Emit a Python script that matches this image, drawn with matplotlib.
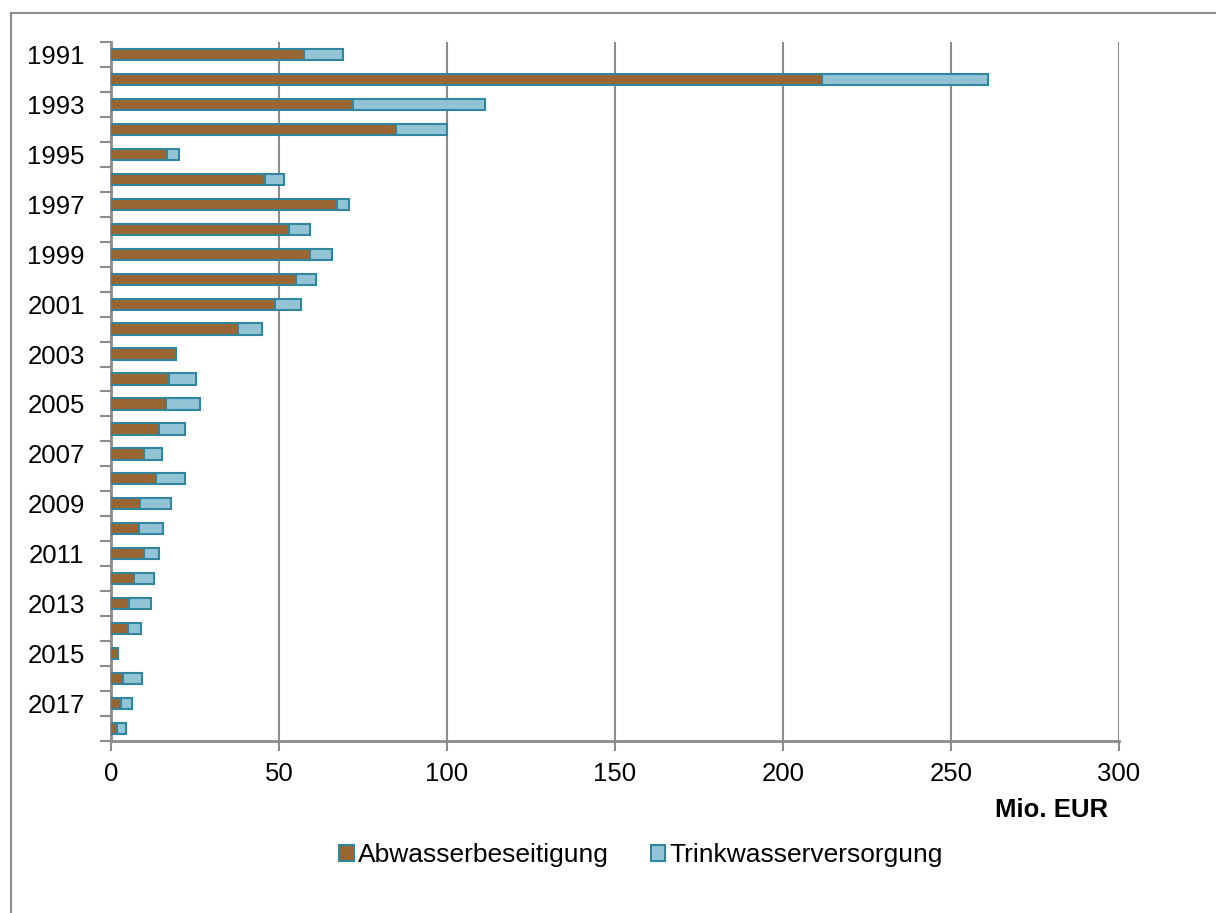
import matplotlib.pyplot as plt
import numpy as np
from matplotlib.patches import Rectangle

plt.rcParams['font.family'] = ['Liberation Sans', 'DejaVu Sans']

# Investitionen je Jahr, Mio. EUR
years = list(range(1991, 2019))
abwasser = [57.4, 211.5, 72.1, 84.9, 16.6, 45.8, 67.2, 52.9, 59.3, 55.0,
            48.7, 37.7, 19.4, 17.3, 16.5, 14.3, 9.9, 13.5, 8.7, 8.2,
            9.9, 6.8, 5.3, 5.2, 2.1, 3.5, 2.9, 1.7]
trinkwasser = [11.5, 49.5, 39.2, 15.0, 3.5, 5.8, 3.7, 6.3, 6.5, 6.0,
               7.9, 7.2, 0.0, 7.9, 10.1, 7.8, 5.4, 8.4, 9.1, 7.3,
               4.4, 6.1, 6.5, 3.8, 0.0, 5.7, 3.4, 2.7]

brown = '#996633'
light_blue = '#93c4d6'
edge = '#31859c'
grey = '#8c8c8c'

fig = plt.figure(figsize=(12.16, 9.13), dpi=100)
ax = fig.add_axes([0.0913, 0.1884, 0.8289, 0.7656])

y = np.arange(len(years))
ax.barh(y, abwasser, height=0.45, color=brown, edgecolor=edge, linewidth=1.5,
        label='Abwasserbeseitigung', zorder=3)
ax.barh(y, trinkwasser, left=abwasser, height=0.45, color=light_blue,
        edgecolor=edge, linewidth=1.5, label='Trinkwasserversorgung', zorder=3)

ax.set_xlim(0, 300)
ax.set_ylim(len(years) - 0.5, -0.5)
ax.set_xticks(np.arange(0, 301, 50))
ax.tick_params(axis='x', length=7, width=1.5, color=grey, labelsize=18.5, pad=8)
ax.xaxis.grid(True, color=grey, linewidth=1.5, zorder=0)

# year labels on every other bar, tick marks between the bars
ax.set_yticks(y[::2])
ax.set_yticklabels([str(v) for v in years[::2]])
ax.tick_params(axis='y', which='major', length=0, labelsize=18.5, pad=19)
ax.set_yticks(np.arange(-0.5, len(years)), minor=True)
ax.tick_params(axis='y', which='minor', length=8, width=1.5, color=grey)

for side in ('top', 'right'):
    ax.spines[side].set_visible(False)
for side in ('left', 'bottom'):
    ax.spines[side].set_color(grey)
    ax.spines[side].set_linewidth(2)

fig.text(1108 / 1216, 1 - 810 / 913, 'Mio. EUR', ha='right', va='center',
         fontsize=18.5, fontweight='bold')

fig.legend(loc='center', bbox_to_anchor=(641 / 1216, 1 - 855 / 913),
           ncol=2, frameon=False, fontsize=19, handlelength=0.55,
           handleheight=0.55, handletextpad=0.15, columnspacing=1.6)

# outer chart frame
fig.patches.append(Rectangle((11 / 1216, -0.1), 1.2, 1 - 13 / 913 + 0.1,
                             transform=fig.transFigure, fill=False,
                             edgecolor=grey, linewidth=1.5))

fig.savefig('out.png', dpi=100)
